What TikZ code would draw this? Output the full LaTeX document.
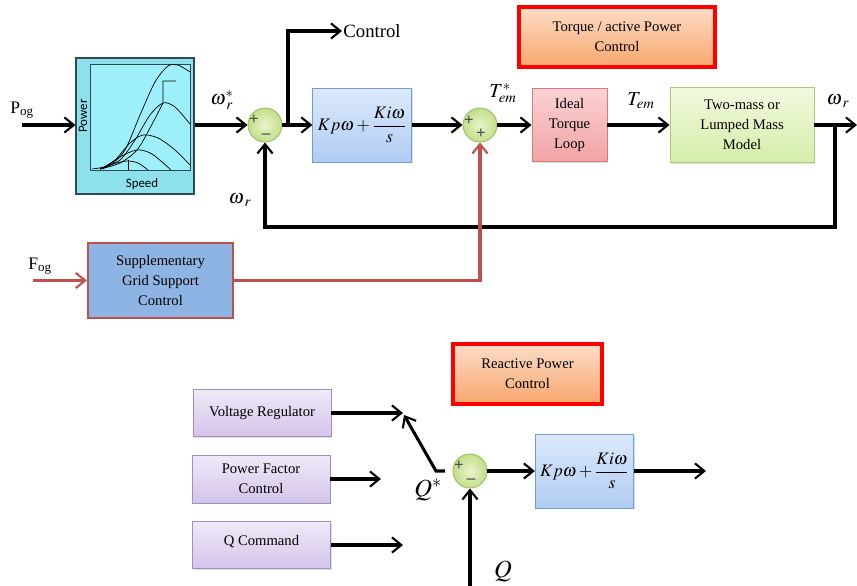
\documentclass[tikz,border=0pt]{standalone}
\usepackage{mathptmx}
\usepackage{fontspec}
\setmainfont{Liberation Serif}
\newfontfamily\plotfont{Carlito}
\usetikzlibrary{arrows.meta,shadows}

\definecolor{plotfill}{HTML}{8DE1EC}
\definecolor{plotin}{HTML}{9DF0FA}
\definecolor{plotline}{HTML}{2C4B52}
\definecolor{kptop}{HTML}{DCE9FB}
\definecolor{kpbot}{HTML}{B0CCF2}
\definecolor{kpline}{HTML}{6F9BD6}
\definecolor{idtop}{HTML}{FAD2D3}
\definecolor{idbot}{HTML}{F2A3A5}
\definecolor{idline}{HTML}{D27C7E}
\definecolor{mstop}{HTML}{F1F9E0}
\definecolor{msbot}{HTML}{D5EDA8}
\definecolor{msline}{HTML}{A8CE73}
\definecolor{supfill}{HTML}{8DB4E2}
\definecolor{suppred}{HTML}{C0504D}
\definecolor{ttltop}{HTML}{FCDDC7}
\definecolor{ttlbot}{HTML}{F8A66D}
\definecolor{vrtop}{HTML}{F0E9F8}
\definecolor{vrbot}{HTML}{D3C4EA}
\definecolor{vrline}{HTML}{A18FC3}
\definecolor{sumin}{HTML}{E9F4CC}
\definecolor{sumout}{HTML}{C2DE88}
\definecolor{sumline}{HTML}{9EC060}

\begin{document}
\begin{tikzpicture}[
		x=0.03cm, y=-0.03cm,
		>={Straight Barb[length=8pt,width=13pt,line width=1.8pt]},
		sig/.style={->,line width=2.6pt},
		suppsig/.style={sig,suppred},
		boxtext/.style={font=\fontsize{12.5}{17}\selectfont,align=center},
		block/.style={boxtext,draw,line width=0.8pt,inner sep=0pt,
			drop shadow={opacity=0.25,shadow xshift=1.2pt,shadow yshift=-1.2pt}},
		plotbox/.style={draw=plotline,fill=plotfill,line width=1pt,
			minimum width=3.54cm,minimum height=4.08cm},
		kpblock/.style={block,draw=kpline,top color=kptop,bottom color=kpbot,
			minimum width=2.95cm,minimum height=2.22cm,font=\fontsize{15}{18}\selectfont},
		idblock/.style={block,draw=idline,top color=idtop,bottom color=idbot,
			minimum width=2.25cm,minimum height=2.19cm},
		msblock/.style={block,draw=msline,top color=mstop,bottom color=msbot,
			minimum width=4.32cm,minimum height=2.25cm},
		supblock/.style={block,draw=suppred,fill=supfill,line width=2pt,
			minimum width=4.35cm,minimum height=2.25cm},
		ttlbox/.style={block,draw=red,line width=3pt,top color=ttltop,bottom color=ttlbot,
			minimum height=1.8cm},
		srcbox/.style={block,draw=vrline,top color=vrtop,bottom color=vrbot,
			minimum width=4.14cm,minimum height=1.4cm},
		sumjunc/.style={circle,draw=sumline,line width=0.8pt,inner color=sumin,
			outer color=sumout,minimum size=1.02cm,inner sep=0pt},
		sgn/.style={font=\bfseries\Large,text=black!70,inner sep=0pt},
		lbl/.style={font=\fontsize{17}{19}\selectfont,inner sep=0pt},
		biglbl/.style={font=\fontsize{21}{24}\selectfont,inner sep=0pt},
	]
	\useasboundingbox (0,0) rectangle (857,586);

	% ---------- titles ----------
	\node[ttlbox,minimum width=5.88cm] (ttlP) at (617,37) {Torque / active Power\\Control};
	\node[ttlbox,minimum width=4.47cm] (ttlQ) at (527.5,374) {Reactive Power\\Control};

	% ---------- power/speed curve block ----------
	\node[plotbox] (mppt) at (135,126) {};
	\fill[plotin] (90,64) rectangle (190,170);
	\draw[plotline,line width=0.7pt] (90,64) rectangle (190,170);
	\begin{scope}[line width=0.6pt,black]
		\draw plot[smooth] coordinates {(92,169) (110,165) (125,150) (140,115) (155,82) (168,66) (178,65) (190,72)};
		\draw plot[smooth] coordinates {(100,169) (120,160) (135,140) (150,115) (163,103) (175,107) (190,124)};
		\draw plot[smooth] coordinates {(100,169) (115,160) (130,143) (143,135) (158,138) (175,150) (190,165)};
		\draw plot[smooth] coordinates {(103,169) (120,157) (137,150) (152,154) (171,170)};
		\draw plot[smooth] coordinates {(100,169) (113,164) (127,161) (138,163) (148,170)};
		\draw plot[smooth] coordinates {(100,169) (120,163) (137,150) (150,128) (163,103)} -- (163,81) -- (176,81);
		\draw (128,160) -- (128,170);
	\end{scope}
	\node[font=\plotfont\fontsize{11}{13}\selectfont,rotate=90] (pwr) at (83,116) {Power};
	\node[font=\plotfont\fontsize{11}{13}\selectfont] (spd) at (142,184) {Speed};

	% ---------- torque / active power loop ----------
	\node[sumjunc] (sumA) at (265,125) {};
	\node[kpblock] (kp1) at (362,125) {$\displaystyle Kp\omega+\frac{Ki\omega}{s}$};
	\node[sumjunc] (sumB) at (480,125) {};
	\node[idblock] (ideal) at (569.5,125) {Ideal\\Torque\\Loop};
	\node[msblock] (mass) at (742,125) {Two-mass or\\Lumped Mass\\Model};
	\node[supblock] (supp) at (160.5,280.5) {Supplementary\\Grid Support\\Control};

	\node[sgn] (sA1) at (254,120) {+};
	\node[sgn] (sA2) at (266,136) {--};
	\node[sgn] (sB1) at (469,121) {+};
	\node[sgn] (sB2) at (481,134) {+};

	\node[font=\fontsize{15}{18}\selectfont,inner sep=0pt] (pog) at (22,110) {P\textsubscript{og}};
	\node[font=\fontsize{15}{18}\selectfont,inner sep=0pt] (fog) at (40,266) {F\textsubscript{og}};
	\node[font=\fontsize{16}{18}\selectfont,anchor=west,inner sep=1pt] (ctrl) at (342,31) {Control};
	\node[lbl] (wref) at (222,100) {$\omega_{\mkern3mu r}^{*}$};
	\node[lbl] (tref) at (503,93) {$T_{em}^{*}$};
	\node[lbl] (tem) at (641,101) {$T_{em}$};
	\node[lbl] (wout) at (838,101) {$\omega_{\mkern3mu r}$};
	\node[lbl] (wfb) at (240,200) {$\omega_{\mkern3mu r}$};

	\coordinate (pin) at (22,125);
	\coordinate (brA) at (288,125);
	\coordinate (tap) at (835,125);
	\coordinate (wend) at (857,125);
	\coordinate (fin) at (33,280.5);

	\draw[sig] (pin) -- (mppt.west |- pin);
	\draw[sig] (mppt.east |- sumA) -- (sumA);
	\draw[sig] (sumA) -- (kp1);
	\draw[sig] (brA) |- (ctrl.west);
	\draw[sig] (kp1) -- (sumB);
	\draw[sig] (sumB) -- (ideal);
	\draw[sig] (ideal) -- (mass);
	\draw[sig] (mass) -- (wend);
	\draw[sig] (tap) -- ++(0,102) -| (sumA.south);
	\draw[suppsig] (fin) -- (supp.west);
	\draw[suppsig] (supp.east) -| (sumB.south);

	% ---------- reactive power loop ----------
	\node[srcbox] (vr) at (262,413) {Voltage Regulator};
	\node[srcbox,minimum height=1.44cm] (pf) at (261,479) {Power Factor\\Control};
	\node[srcbox,text depth=8pt] (qc) at (261.5,545) {Q Command};
	\node[sumjunc] (sumC) at (470,471) {};
	\node[kpblock] (kp2) at (584.5,471) {$\displaystyle Kp\omega+\frac{Ki\omega}{s}$};
	\node[sgn] (sC1) at (459,466) {+};
	\node[sgn] (sC2) at (471,481) {--};
	\node[biglbl] (qref) at (428,490) {$Q^{*}$};
	\node[biglbl] (qmeas) at (503,571) {$Q$};

	\coordinate (vrend) at (403,413);
	\coordinate (pfend) at (381,479);
	\coordinate (qcend) at (403,545);
	\coordinate (swA) at (445,471);
	\coordinate (swB) at (436,471);
	\coordinate (swC) at (404,415);
	\coordinate (qin) at (470,586);
	\coordinate (kpend) at (706,471);

	\draw[sig] (vr.east) -- (vrend);
	\draw[sig] (pf.east) -- (pfend);
	\draw[sig] (qc.east) -- (qcend);
	\draw[sig] (swA) -- (swB) -- (swC);
	\draw[sig] (sumC) -- (kp2);
	\draw[sig] (kp2) -- (kpend);
	\draw[sig] (qin) -- (sumC.south);

\end{tikzpicture}
\end{document}
